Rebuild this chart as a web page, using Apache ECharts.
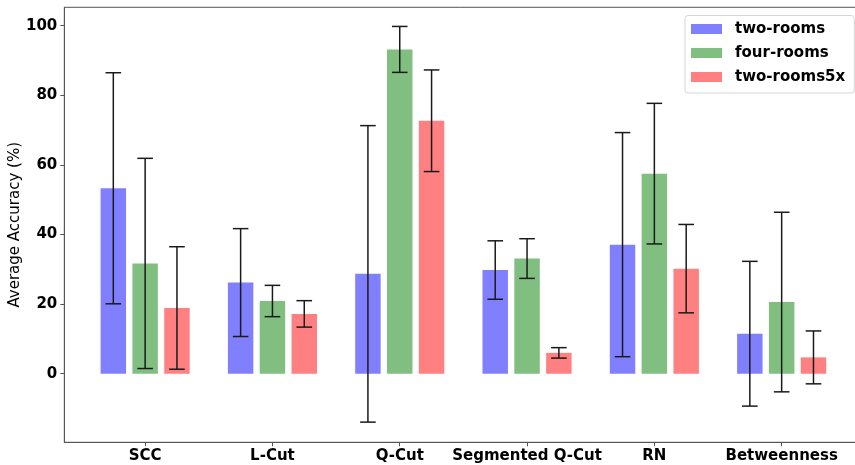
<!DOCTYPE html>
<html>
<head>
<meta charset="utf-8">
<script src="https://cdn.jsdelivr.net/npm/echarts@6/dist/echarts.min.js"></script>
<style>html,body{margin:0;padding:0;background:#fff}#c{width:855px;height:465px}</style>
</head>
<body>
<div id="c"></div>
<script>
const categories = ['SCC', 'L-Cut', 'Q-Cut', 'Segmented Q-Cut', 'RN', 'Betweenness'];
const seriesNames = ['two-rooms', 'four-rooms', 'two-rooms5x'];
const twoRooms = [53.3, 26.2, 28.7, 29.8, 37.1, 11.5];
const twoRoomsErr = [33.2, 15.5, 42.6, 8.4, 32.2, 20.8];
const fourRooms = [31.7, 20.9, 93.2, 33.1, 57.5, 20.6];
const fourRoomsErr = [30.2, 4.5, 6.6, 5.7, 20.2, 25.8];
const twoRooms5x = [18.9, 17.2, 72.7, 6.0, 30.2, 4.7];
const twoRooms5xErr = [17.6, 3.8, 14.6, 1.5, 12.7, 7.6];
const yTicks = [0, 20, 40, 60, 80, 100];

const colors = ['#8080ff', '#80bf80', '#ff8080'];
const means = [twoRooms, fourRooms, twoRooms5x];
const errs = [twoRoomsErr, fourRoomsErr, twoRooms5xErr];
const offsets = [-0.25, 0, 0.25];
const FONT = 'DejaVu Sans';

const chart = echarts.init(document.getElementById('c'), null, {renderer: 'canvas'});

const series = [];
means.forEach((m, s) => {
  series.push({
    name: seriesNames[s],
    type: 'bar',
    data: m.map((v, i) => [i, v]),
    barWidth: 25.46,
    barGap: '25%',
    itemStyle: {color: colors[s]},
    emphasis: {disabled: true},
    z: 2
  });
});
means.forEach((m, s) => {
  series.push({
    type: 'custom',
    name: 'err' + s,
    data: m.map((v, i) => [i + offsets[s], v - errs[s][i], v + errs[s][i]]),
    encode: {x: 0, y: [1, 2]},
    z: 5,
    silent: true,
    renderItem: function (params, api) {
      const x = api.value(0);
      const lo = api.coord([x, api.value(1)]);
      const hi = api.coord([x, api.value(2)]);
      const cw = 7.8;
      const st = {stroke: '#1a1a1a', lineWidth: 1.5};
      return {
        type: 'group',
        children: [
          {type: 'line', shape: {x1: lo[0], y1: lo[1], x2: hi[0], y2: hi[1]}, style: st},
          {type: 'line', shape: {x1: lo[0] - cw, y1: lo[1], x2: lo[0] + cw, y2: lo[1]}, style: st},
          {type: 'line', shape: {x1: hi[0] - cw, y1: hi[1], x2: hi[0] + cw, y2: hi[1]}, style: st}
        ]
      };
    }
  });
});

chart.setOption({
  animation: false,
  backgroundColor: '#fff',
  grid: {left: 64.3, top: 7.3, bottom: 22.7, right: -7.5, show: true, borderColor: '#555', borderWidth: 1,
         containLabel: false, outerBoundsMode: 'none'},
  legend: {
    data: seriesNames,
    orient: 'vertical',
    left: 685,
    top: 15.5,
    icon: 'rect',
    itemWidth: 31,
    itemHeight: 10,
    itemGap: 9,
    padding: [6, 9, 8.5, 6],
    backgroundColor: '#fff',
    borderColor: '#d6d6d6',
    borderWidth: 1,
    borderRadius: 3,
    textStyle: {fontFamily: FONT, fontWeight: 'bold', fontSize: 15, color: '#000', lineHeight: 14, padding: [0, 0, 0, 8]}
  },
  xAxis: {
    type: 'value',
    min: -0.635,
    max: 5.635,
    splitLine: {show: false},
    axisLine: {show: true, onZero: false, lineStyle: {color: '#555', width: 1}},
    axisTick: {show: true, length: 4, lineStyle: {color: '#555'}, customValues: [0, 1, 2, 3, 4, 5]},
    axisLabel: {
      customValues: [0, 1, 2, 3, 4, 5],
      formatter: v => categories[Math.round(v)],
      fontFamily: FONT, fontWeight: 'bold', fontSize: 15, color: '#000', margin: 6
    }
  },
  yAxis: {
    type: 'value',
    min: -19.7,
    max: 105.3,
    splitLine: {show: false},
    name: 'Average Accuracy (%)',
    nameLocation: 'middle',
    nameGap: 42,
    nameMoveOverlap: false,
    nameTextStyle: {fontFamily: FONT, fontSize: 15, color: '#000'},
    axisLine: {show: true, onZero: false, lineStyle: {color: '#555', width: 1}},
    axisTick: {show: true, length: 4, lineStyle: {color: '#555'}, customValues: yTicks},
    axisLabel: {customValues: yTicks, fontFamily: FONT, fontWeight: 'bold', fontSize: 15, color: '#000', margin: 7}
  },
  series: series
});
</script>
</body>
</html>
